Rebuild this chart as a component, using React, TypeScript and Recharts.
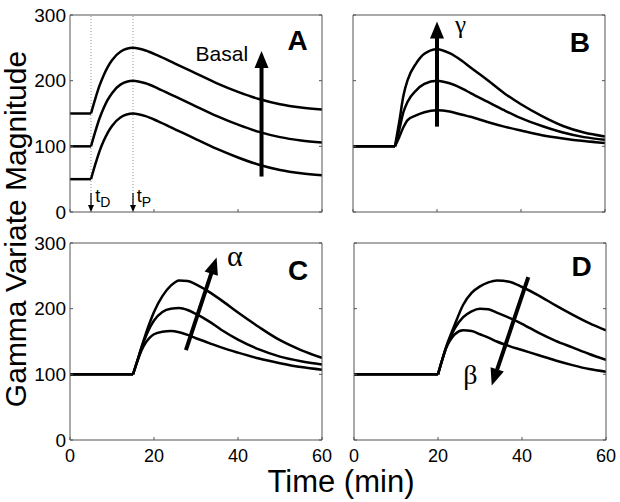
import React from "react";
import { LineChart, Line, XAxis, YAxis, ReferenceLine, ReferenceDot } from "recharts";

// A: basal level changes (onset t=5)
const timeA = [5, 6, 7, 8, 9, 10, 12, 15, 18, 21, 25, 29, 35, 40, 45, 50, 55, 60];
const basal50A = [50, 72, 92, 108, 121, 131, 144, 150, 146, 138, 126, 114, 96, 83, 72, 64, 59, 56];
const basal100A = [100, 122, 142, 158, 171, 181, 194, 200, 196, 188, 176, 164, 146, 133, 122, 114, 109, 106];
const basal150A = [150, 172, 192, 208, 221, 231, 244, 250, 246, 238, 226, 214, 196, 183, 172, 164, 159, 156];

// B: gamma (scale) changes (onset t=10)
const timeB = [10, 11, 12, 13, 15, 17, 20, 23, 26, 28, 32, 36, 40, 45, 50, 55, 60];
const gammaLowB = [100, 114, 129, 140, 147, 152, 155, 153, 148, 145, 137, 130, 124, 117, 112, 108, 105];
const gammaMidB = [100, 125, 152, 168, 185, 195, 200, 196, 188, 181, 168, 155, 143, 131, 121, 114, 110];
const gammaHighB = [100, 137, 177, 201, 226, 241, 248, 242, 230, 220, 201, 181, 164, 146, 131, 121, 115];

// C: alpha changes (onset t=15)
const timeC = [15, 16, 17, 18, 19, 20, 22, 24, 26, 28, 30, 33, 36, 40, 45, 50, 55, 60];
const alphaLowC = [100, 119, 136, 148, 156, 161, 165, 166, 164, 160, 155, 148, 141, 133, 124, 117, 111, 107];
const alphaMidC = [100, 120, 140, 157, 171, 182, 195, 200, 201, 198, 192, 181, 168, 153, 138, 127, 120, 115];
const alphaHighC = [100, 120, 141, 161, 179, 195, 219, 235, 243, 242, 237, 226, 213, 194, 172, 152, 137, 125];

// D: beta changes (onset t=20)
const timeD = [20, 21, 22, 23, 24, 26, 28, 30, 32, 34, 37, 40, 44, 48, 52, 56, 60];
const betaHighD = [100, 122, 143, 160, 176, 206, 224, 234, 240, 243, 241, 233, 220, 205, 191, 178, 167];
const betaMidD = [100, 122, 142, 157, 170, 187, 196, 200, 199, 194, 186, 177, 163, 151, 141, 131, 122];
const betaLowD = [100, 122, 141, 153, 161, 167, 166, 161, 156, 150, 143, 137, 129, 121, 114, 108, 104];

const xTicks = [0, 20, 40, 60];
const yTicks = [0, 100, 200, 300];

const SANS = "'Liberation Sans', Arial, Helvetica, sans-serif";
const SERIF = "'Liberation Serif', 'Times New Roman', serif";
const FRAME = "#555";

const toPts = (times: number[], vals: number[]) => times.map((t, i) => ({ t, v: vals[i] }));

// arrow drawn from segment start to tip, uses the reference line's pixel coords
const arrowShape = (head: number, half: number, sw: number) => (p: any) => {
  const { x1, y1, x2, y2 } = p;
  const dx = x2 - x1;
  const dy = y2 - y1;
  const len = Math.hypot(dx, dy) || 1;
  const ux = dx / len;
  const uy = dy / len;
  const bx = x2 - ux * head;
  const by = y2 - uy * head;
  const pts = `${x2},${y2} ${bx - uy * half},${by + ux * half} ${bx + uy * half},${by - ux * half}`;
  return (
    <g>
      <line x1={x1} y1={y1} x2={bx + ux} y2={by + uy} stroke="#000" strokeWidth={sw} />
      <polygon points={pts} fill="#000" />
    </g>
  );
};

const textShape =
  (txt: React.ReactNode, size: number, family: string, weight = "normal", anchor = "start") =>
  (p: any) =>
    (
      <text x={p.cx} y={p.cy} fontSize={size} fontFamily={family} fontWeight={weight} textAnchor={anchor} fill="#000">
        {txt}
      </text>
    );

interface Curve {
  times: number[];
  values: number[];
}

interface PanelProps {
  left: number;
  top: number;
  curves: Curve[];
  showX: boolean;
  showY: boolean;
  children?: React.ReactNode;
}

const Panel = ({ left, top, curves, showX, showY, children }: PanelProps) => {
  const blank = () => "";
  return (
    <div style={{ position: "absolute", left: left - 50, top: top - 15 }}>
      <LineChart width={317} height={242} margin={{ top: 5, right: 5, left: 0, bottom: 0 }}>
        <XAxis
          type="number"
          dataKey="t"
          domain={[0, 60]}
          ticks={xTicks}
          allowDataOverflow
          height={30}
          stroke={FRAME}
          tickSize={-3}
          tickMargin={12}
          tickFormatter={showX ? undefined : blank}
          tick={{ fill: "#000", fontSize: 18, fontFamily: SANS }}
        />
        <XAxis
          xAxisId="top"
          orientation="top"
          type="number"
          domain={[0, 60]}
          ticks={xTicks}
          allowDataOverflow
          height={10}
          stroke={FRAME}
          tickSize={-3}
          tickFormatter={blank}
        />
        <YAxis
          type="number"
          dataKey="v"
          domain={[0, 300]}
          ticks={yTicks}
          allowDataOverflow
          width={50}
          stroke={FRAME}
          tickSize={-3}
          tickMargin={7}
          tickFormatter={showY ? undefined : blank}
          tick={{ fill: "#000", fontSize: 19, fontFamily: SANS }}
        />
        <YAxis
          yAxisId="right"
          orientation="right"
          type="number"
          domain={[0, 300]}
          ticks={yTicks}
          allowDataOverflow
          width={10}
          stroke={FRAME}
          tickSize={-3}
          tickFormatter={blank}
        />
        {children}
        {curves.map((c, i) => (
          <Line
            key={`flat-${i}`}
            data={[
              { t: 0, v: c.values[0] },
              { t: c.times[0], v: c.values[0] },
            ]}
            dataKey="v"
            type="linear"
            stroke="#000"
            strokeWidth={2.5}
            dot={false}
            isAnimationActive={false}
          />
        ))}
        {curves.map((c, i) => (
          <Line
            key={`curve-${i}`}
            data={toPts(c.times, c.values)}
            dataKey="v"
            type="monotone"
            stroke="#000"
            strokeWidth={2.5}
            dot={false}
            isAnimationActive={false}
          />
        ))}
      </LineChart>
    </div>
  );
};

const sub = (main: string, s: string) => (
  <>
    <tspan>{main}</tspan>
    <tspan dy={5} fontSize={14}>
      {s}
    </tspan>
  </>
);

export default function App() {
  const bigArrow = arrowShape(17, 7, 4);
  const smallArrow = arrowShape(7, 3, 1.2);
  return (
    <div style={{ position: "absolute", left: 0, top: 0, width: 620, height: 502, background: "#fff", overflow: "hidden" }}>
      <Panel
        left={70}
        top={15}
        showX={false}
        showY
        curves={[
          { times: timeA, values: basal50A },
          { times: timeA, values: basal100A },
          { times: timeA, values: basal150A },
        ]}
      >
        <ReferenceLine x={5} stroke="#999" strokeDasharray="1 2" />
        <ReferenceLine x={15} stroke="#999" strokeDasharray="1 2" />
        <ReferenceLine segment={[{ x: 5, y: 29 }, { x: 5, y: 0 }]} shape={smallArrow} />
        <ReferenceLine segment={[{ x: 15, y: 29 }, { x: 15, y: 0 }]} shape={smallArrow} />
        <ReferenceDot x={6} y={15} r={0} shape={textShape(sub("t", "D"), 18, SANS)} />
        <ReferenceDot x={15.9} y={15} r={0} shape={textShape(sub("t", "P"), 18, SANS)} />
        <ReferenceLine segment={[{ x: 45.6, y: 54 }, { x: 45.6, y: 245 }]} shape={bigArrow} />
        <ReferenceDot x={42.4} y={230} r={0} shape={textShape("Basal", 21, SANS, "normal", "end")} />
        <ReferenceDot x={54.2} y={246} r={0} shape={textShape("A", 28, SANS, "bold", "middle")} />
      </Panel>
      <Panel
        left={353}
        top={15}
        showX={false}
        showY={false}
        curves={[
          { times: timeB, values: gammaLowB },
          { times: timeB, values: gammaMidB },
          { times: timeB, values: gammaHighB },
        ]}
      >
        <ReferenceLine segment={[{ x: 20, y: 130 }, { x: 20, y: 290 }]} shape={bigArrow} />
        <ReferenceDot x={24.3} y={272} r={0} shape={textShape("γ", 25, SERIF)} />
        <ReferenceDot x={54} y={244} r={0} shape={textShape("B", 28, SANS, "bold", "middle")} />
      </Panel>
      <Panel
        left={70}
        top={243}
        showX
        showY
        curves={[
          { times: timeC, values: alphaLowC },
          { times: timeC, values: alphaMidC },
          { times: timeC, values: alphaHighC },
        ]}
      >
        <ReferenceLine segment={[{ x: 27.6, y: 137 }, { x: 34.9, y: 278 }]} shape={bigArrow} />
        <ReferenceDot x={37.4} y={265} r={0} shape={textShape("α", 30, SERIF)} />
        <ReferenceDot x={54.3} y={244} r={0} shape={textShape("C", 28, SANS, "bold", "middle")} />
      </Panel>
      <Panel
        left={354}
        top={243}
        showX
        showY={false}
        curves={[
          { times: timeD, values: betaLowD },
          { times: timeD, values: betaMidD },
          { times: timeD, values: betaHighD },
        ]}
      >
        <ReferenceLine segment={[{ x: 41.5, y: 248 }, { x: 32.8, y: 83 }]} shape={bigArrow} />
        <ReferenceDot x={26} y={85} r={0} shape={textShape("β", 28, SERIF)} />
        <ReferenceDot x={54.2} y={249} r={0} shape={textShape("D", 28, SANS, "bold", "middle")} />
      </Panel>
      <svg width={620} height={502} style={{ position: "absolute", left: 0, top: 0, pointerEvents: "none" }}>
        <text x={341} y={492} fontSize={31} fontFamily={SANS} textAnchor="middle" fill="#000">
          Time (min)
        </text>
        <text
          transform="translate(26,229) rotate(-90)"
          fontSize={30}
          fontFamily={SANS}
          textAnchor="middle"
          fill="#000"
        >
          Gamma Variate Magnitude
        </text>
      </svg>
    </div>
  );
}
